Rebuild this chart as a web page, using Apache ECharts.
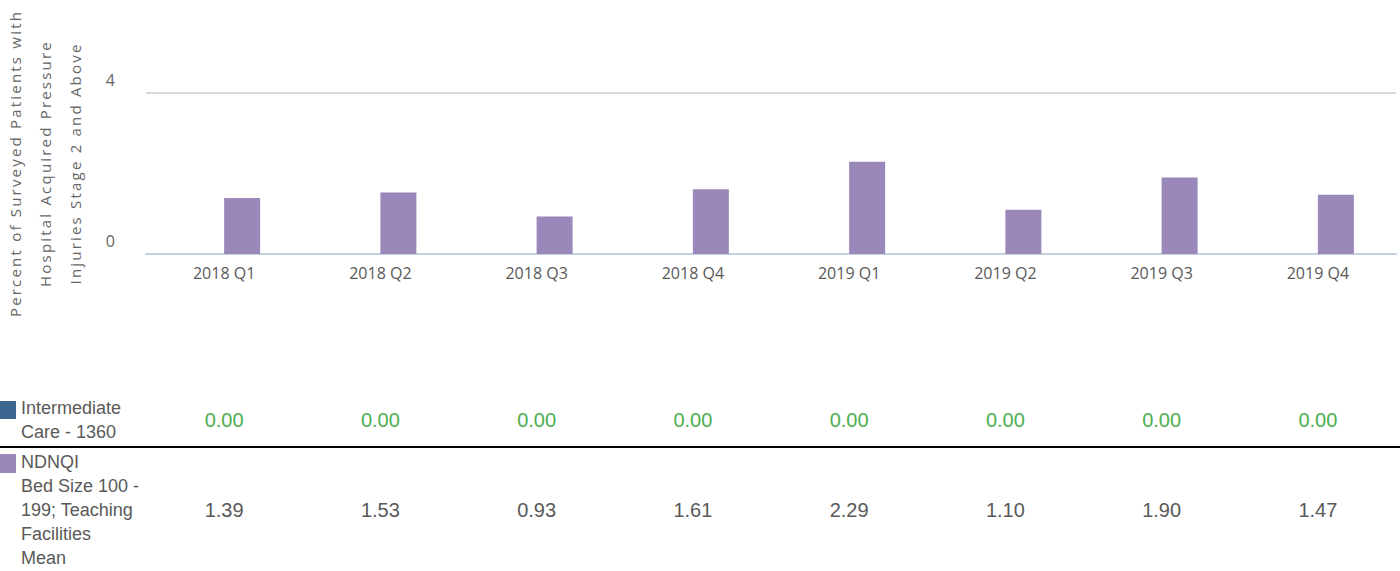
<!DOCTYPE html>
<html>
<head>
<meta charset="utf-8">
<script src="https://cdn.jsdelivr.net/npm/echarts@6/dist/echarts.min.js"></script>
<style>
  html, body { margin: 0; padding: 0; background: #fff; }
  #chart { width: 1400px; height: 571px; }
</style>
</head>
<body>
<div id="chart"></div>
<script>
// quarters on the x axis
const categories = ['2018 Q1', '2018 Q2', '2018 Q3', '2018 Q4', '2019 Q1', '2019 Q2', '2019 Q3', '2019 Q4']
// unit values (all zero in the source)
const intermediateCare = [0, 0, 0, 0, 0, 0, 0, 0]
// NDNQI benchmark mean
const ndnqiMean = [1.39, 1.53, 0.93, 1.61, 2.29, 1.10, 1.90, 1.47]

const seriesNames = ['Intermediate Care - 1360', 'NDNQI Bed Size 100 - 199; Teaching Facilities Mean']
const rowLabels = ['Intermediate\nCare - 1360', 'NDNQI\nBed Size 100 -\n199; Teaching\nFacilities\nMean']
const yTitle = 'Percent of Surveyed Patients with\nHospital Acquired Pressure\nInjuries Stage 2 and Above'

const BLUE = '#3c6590'
const PURPLE = '#9a88bb'
const GREEN = '#4caf50'
const GREY = '#595959'

const chart = echarts.init(document.getElementById('chart'), null, { renderer: 'svg' })

// the table rows under the plot are extra category axes whose labels are the values
function valueAxis(values, offset, color) {
  return {
    type: 'category', data: categories, position: 'bottom', offset: offset,
    axisLine: { show: false }, axisTick: { show: false },
    axisLabel: {
      interval: 0, margin: 0, color: color, fontSize: 20, lineHeight: 20,
      fontFamily: 'Liberation Sans, Arial, sans-serif',
      formatter: (v, i) => values[i].toFixed(2),
    },
  }
}

chart.setOption({
  animation: false,
  grid: { left: 146, width: 1250, top: 93, bottom: 317, containLabel: false, outerBoundsMode: 'none' },
  xAxis: [
    {
      type: 'category', data: categories,
      axisLine: { lineStyle: { color: '#c3d1e0', width: 2 } },
      axisTick: { show: false },
      axisLabel: { interval: 0, margin: 11, color: GREY, fontSize: 16, fontFamily: 'Open Sans' },
    },
    valueAxis(intermediateCare, 156, GREEN),
    valueAxis(ndnqiMean, 246, GREY),
  ],
  yAxis: {
    type: 'value', min: 0, max: 4, interval: 4,
    name: yTitle, nameLocation: 'middle', nameRotate: 90, nameGap: 56,
    nameTextStyle: {
      color: '#666', fontSize: 15, lineHeight: 30, fontFamily: 'Open Sans',
      padding: [0, 0, 0, 20],
    },
    axisLine: { show: false }, axisTick: { show: false },
    axisLabel: {
      margin: 31, color: '#666', fontSize: 16, fontFamily: 'Open Sans',
      verticalAlign: 'bottom', padding: [0, 0, 5, 0],
    },
    splitLine: { lineStyle: { color: '#d9d9d9', width: 2 } },
  },
  series: [
    { name: seriesNames[0], type: 'bar', data: intermediateCare, barWidth: 36, barGap: '0%',
      itemStyle: { color: BLUE } },
    { name: seriesNames[1], type: 'bar', data: ndnqiMean, barWidth: 36, barGap: '0%',
      itemStyle: { color: PURPLE } },
  ],
  graphic: [
    { type: 'rect', left: 0, top: 401, shape: { width: 16, height: 18 }, style: { fill: BLUE } },
    { type: 'rect', left: 0, top: 454, shape: { width: 16, height: 19 }, style: { fill: PURPLE } },
    { type: 'text', left: 21, top: 396,
      style: { text: rowLabels[0], fill: GREY, font: '18px Liberation Sans', lineHeight: 24 } },
    { type: 'text', left: 21, top: 450,
      style: { text: rowLabels[1], fill: GREY, font: '18px Liberation Sans', lineHeight: 24 } },
    { type: 'line', shape: { x1: 0, y1: 447, x2: 1400, y2: 447 },
      style: { stroke: '#000', lineWidth: 2 } },
  ],
})

// the source title is letter-spaced; zrender has no option for it, so set it on the svg text
function spaceTitle() {
  const lines = yTitle.split('\n')
  document.querySelectorAll('#chart text').forEach((t) => {
    if (lines.includes(t.textContent)) t.style.letterSpacing = '2.2px'
  })
}
chart.on('finished', spaceTitle)
spaceTitle()
</script>
</body>
</html>
